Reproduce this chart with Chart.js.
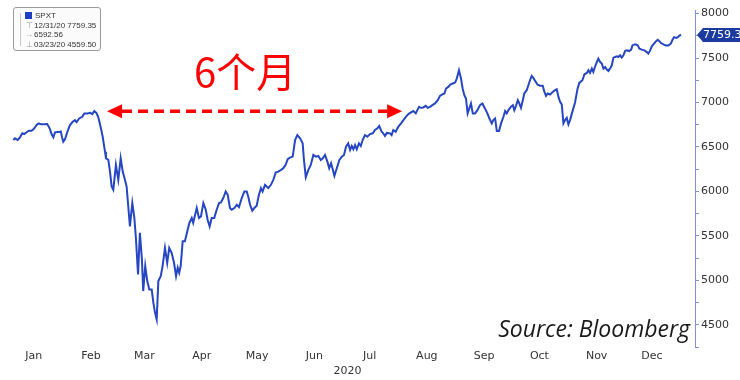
<!DOCTYPE html>
<html>
<head>
<meta charset="utf-8">
<script src="https://cdn.jsdelivr.net/npm/chart.js@4"></script>
<style>
html,body{margin:0;padding:0;background:#fff;}
#wrap{position:relative;width:740px;height:380px;overflow:hidden;}
#legendBox{position:absolute;left:13px;top:7px;width:86px;height:42px;border:1px solid #9a9a9a;border-radius:3px;background:#fbfbfb;font-family:"Liberation Sans",Arial,sans-serif;font-size:8px;color:#333;}
#legendBox span{position:absolute;white-space:nowrap;line-height:10px;}
#legendBox .tree{position:absolute;left:6px;top:5px;width:1px;height:33px;background:#c8c8c8;}
#legendBox .sq{position:absolute;left:11px;top:4px;width:7px;height:7px;background:#1e3fc0;}
</style>
</head>
<body>
<div id="wrap">
<canvas id="c" width="740" height="380"></canvas>
<div id="legendBox">
  <div class="tree"></div>
  <div class="sq"></div>
  <span style="left:21px;top:3px;">SPXT</span>
  <span style="left:12px;top:13px;color:#999;">⊤</span>
  <span style="left:20px;top:13px;">12/31/20 7759.35</span>
  <span style="left:11px;top:22px;color:#999;">→</span>
  <span style="left:20px;top:22px;">6592.56</span>
  <span style="left:12px;top:32px;color:#999;">⊥</span>
  <span style="left:20px;top:32px;">03/23/20 4559.50</span>
</div>
</div>
<script>
// ---- data (day of year 2020, 0 = Jan 1) ----
const monthNames = ['Jan','Feb','Mar','Apr','May','Jun','Jul','Aug','Sep','Oct','Nov','Dec'];
const monthStarts = [0,31,60,91,121,152,182,213,244,274,305,335];
const yearLabel = '2020';
const seriesName = 'SPXT';
const lastValue = 7759.35;
const yTickValues = [4250,4500,4750,5000,5250,5500,5750,6000,6250,6500,6750,7000,7250,7500,7750,8000];
const yLabelledTicks = [4500,5000,5500,6000,6500,7000,7500,8000];

const days = [
2.9,3.8,5.3,6.5,7.8,8.8,10.5,11.4,12.8,14.1,15.6,16.8,17.9,20.1,21.3,22.6,23.7,24.6,25.5,26.9,27.8,28.6,29.4,30.0,30.9,32.4,33.6,35.1,36.3,37.2,38.6,40.3,41.4,43.2,44.6,45.7,46.8,47.9,48.9,50.2,51.3,
52.6,53.1,54.4,55.3,56.2,57.1,58.5,59.8,61.1,62.2,63.4,64.3,65.2,66.1,67.4,68.5,69.4,70.5,71.5,72.6,73.3,74.4,75.5,76.6,77.9,78.8,79.7,80.6,81.5,82.8,83.8,85.1,86.3,87.4,88.7,90.0,91.1,92.0,92.8,93.6,94.7,95.9,97.2,98.3,99.6,100.4,
102.3,103.5,104.6,105.9,107.2,108.2,109.3,110.4,111.8,113.1,114.4,115.4,116.7,118.0,119.1,120.3,121.2,122.7,124.0,125.2,126.7,128.1,129.4,130.2,131.2,132.4,133.5,134.8,136.0,137.1,138.0,139.3,140.2,141.1,142.5,143.8,145.1,146.5,148.0,149.2,150.5,151.6,152.8,
154.3,155.6,156.8,158.3,159.7,160.4,161.4,162.8,164.1,165.5,166.9,168.2,169.5,170.6,171.8,173.1,174.1,175.1,176.0,176.9,178.2,179.6,180.9,182.1,183.2,184.4,185.4,186.3,187.2,188.1,189.0,190.2,191.2,192.2,193.5,194.7,196.2,197.7,198.9,200.2,201.2,202.5,203.4,204.3,205.3,
207.0,207.9,208.8,210.1,211.5,213.0,214.3,215.6,217.0,218.4,219.7,221.0,222.1,222.8,223.8,225.1,226.4,227.5,228.7,230.0,231.4,232.9,234.1,235.4,236.5,237.4,238.6,239.7,241.0,242.3,243.2,244.4,245.5,246.4,247.3,248.2,249.1,250.0,250.9,251.9,253.1,254.4,255.8,257.1,
258.5,259.8,260.9,262.2,263.0,264.0,264.9,266.1,267.2,268.5,269.4,270.3,271.2,272.5,273.6,274.4,275.3,276.3,277.1,278.0,279.0,279.8,281.1,282.0,282.9,283.8,284.7,285.8,286.9,288.3,289.8,290.7,291.6,292.5,293.8,295.2,296.5,297.4,298.3,299.2,300.1,301.0,301.9,302.8,303.7,304.6,306.1,307.3,308.6,309.6,
311.3,312.4,313.7,314.5,315.4,316.4,317.2,318.2,319.1,319.9,320.9,321.8,322.7,323.6,324.5,325.4,326.3,327.2,328.1,329.0,329.9,330.8,331.7,332.6,333.5,334.4,335.3,336.6,337.7,338.4,339.5,340.4,341.3,342.2,343.5,344.9,346.2,347.0,348.0,348.9,350.1,351.2,352.1,353.0,353.9,355.2,356.5,357.9,359.2,360.1,361.0,362.1,363.0,363.9,364.8
];
const spxt = [
6578,6597,6578,6608,6653,6645,6671,6682,6682,6704,6749,6765,6754,6754,6757,6709,6642,6608,6664,6667,6667,6675,6604,6559,6586,6682,6746,6783,6802,6779,6820,6839,6877,6877,6883,6869,6903,6883,6839,6727,6620,
6447,6373,6354,6223,6055,6018,6298,6130,6373,6223,6130,6055,5831,5607,5869,5701,5458,5066,5533,5234,4879,5160,4991,4898,4898,4749,4637,4560,4991,5047,5160,5365,5197,5365,5309,5197,5047,5141,5085,5160,5440,5440,5552,5645,5701,5645,
5813,5701,5719,5869,5794,5682,5607,5701,5701,5794,5869,5876,5925,5999,5962,5813,5794,5813,5850,5824,5925,5999,5999,5943,5850,5783,5813,5839,5962,6037,5999,6074,6055,6037,6074,6130,6212,6223,6242,6261,6298,6362,6380,
6391,6578,6634,6597,6541,6354,6160,6242,6298,6410,6391,6398,6354,6373,6410,6335,6261,6317,6250,6175,6261,6354,6391,6410,6503,6541,6466,6511,6474,6522,6474,6541,6511,6578,6634,6615,6645,6653,6690,6709,6735,6671,6653,6625,6658,
6653,6634,6690,6671,6727,6765,6802,6839,6869,6888,6903,6877,6925,6951,6940,6944,6962,6940,6951,6970,6989,7026,7074,7090,7101,7157,7175,7202,7213,7224,7269,7362,7269,7157,7082,7045,6877,6933,6989,6877,6877,6914,6970,6989,
6933,6877,6820,6765,6802,6820,6679,6679,6765,6839,6903,6877,6914,6951,6970,6914,6962,7026,6989,6940,7026,7101,7138,7194,7250,7299,7276,7239,7202,7187,7187,7119,7074,7101,7090,7119,7138,7149,7063,7007,6978,6765,6802,6828,6754,6802,6914,7000,7150,7220,
7250,7317,7332,7362,7332,7381,7343,7407,7455,7493,7455,7437,7381,7399,7370,7354,7381,7418,7504,7511,7519,7511,7530,7504,7530,7578,7586,7578,7594,7642,7653,7653,7642,7605,7594,7586,7567,7549,7586,7631,7661,7690,7705,7690,7668,7653,7642,7642,7661,7705,7735,7727,7735,7754,7759.35
];

// annotation: recovery span (Feb peak -> back to peak level)
const spanFromDay = 53.7;
const spanToDay = 213.6;
const spanLevel = 6900;
const spanLabel = '6个月';
const spanLabelDay = 128.5;
const spanLabelLevel = 7340;
const sourceText = 'Source: Bloomberg';

const LINE = '#2646c2';
const AXIS = '#7f92d8';

const overlay = {
  id: 'overlay',
  afterDatasetsDraw(chart) {
    const {ctx, scales: {x, y}, chartArea} = chart;
    ctx.save();
    const ay = y.getPixelForValue(spanLevel);
    const x1 = x.getPixelForValue(spanFromDay);
    const x2 = x.getPixelForValue(spanToDay);
    const head = 15, hh = 7;
    ctx.strokeStyle = '#ff0000';
    ctx.fillStyle = '#ff0000';
    ctx.lineWidth = 3.5;
    ctx.setLineDash([10, 6]);
    ctx.beginPath();
    ctx.moveTo(x1 + head, ay);
    ctx.lineTo(x2 - head, ay);
    ctx.stroke();
    ctx.setLineDash([]);
    ctx.beginPath();
    ctx.moveTo(x1, ay); ctx.lineTo(x1 + head, ay - hh); ctx.lineTo(x1 + head, ay + hh); ctx.closePath(); ctx.fill();
    ctx.beginPath();
    ctx.moveTo(x2, ay); ctx.lineTo(x2 - head, ay - hh); ctx.lineTo(x2 - head, ay + hh); ctx.closePath(); ctx.fill();
    ctx.font = '40px "Noto Sans CJK SC", sans-serif';
    ctx.textAlign = 'center';
    ctx.textBaseline = 'middle';
    ctx.fillText(spanLabel, x.getPixelForValue(spanLabelDay), y.getPixelForValue(spanLabelLevel));
    ctx.fillStyle = '#1a1a1a';
    ctx.font = 'italic 23px "Open Sans", sans-serif';
    ctx.textAlign = 'right';
    ctx.textBaseline = 'alphabetic';
    ctx.fillText(sourceText, chartArea.right - 5, chartArea.bottom - 10);
    const ty = y.getPixelForValue(lastValue);
    const tx = chartArea.right + 2;
    ctx.fillStyle = '#1c3b9e';
    ctx.beginPath();
    ctx.moveTo(tx, ty);
    ctx.lineTo(tx + 6, ty - 7);
    ctx.lineTo(tx + 60, ty - 7);
    ctx.lineTo(tx + 60, ty + 7);
    ctx.lineTo(tx + 6, ty + 7);
    ctx.closePath();
    ctx.fill();
    ctx.fillStyle = '#ffffff';
    ctx.font = '11px "DejaVu Sans", sans-serif';
    ctx.textAlign = 'left';
    ctx.textBaseline = 'middle';
    ctx.fillText(lastValue.toFixed(2), tx + 6, ty + 0.5);
    ctx.restore();
  }
};

new Chart(document.getElementById('c'), {
  type: 'line',
  data: {
    datasets: [{
      label: seriesName,
      data: days.map((d, i) => ({x: d, y: spxt[i]})),
      borderColor: LINE,
      borderWidth: 2,
      pointRadius: 0,
      tension: 0,
      fill: false
    }]
  },
  options: {
    responsive: false,
    animation: false,
    layout: {padding: {top: 10, left: 0, right: 0, bottom: 0}},
    plugins: {legend: {display: false}, tooltip: {enabled: false}},
    scales: {
      x: {
        type: 'linear',
        min: -4.3,
        max: 372.3,
        afterBuildTicks(s) { s.ticks = monthStarts.map(d => ({value: d + 14})); },
        ticks: {
          autoSkip: false, maxRotation: 0, padding: 3, color: '#333',
          font: {family: 'DejaVu Sans', size: 11},
          callback: (v, i) => monthNames[i]
        },
        grid: {display: false, drawTicks: false},
        border: {display: false},
        title: {display: true, text: yearLabel, color: '#333', font: {family: 'DejaVu Sans', size: 11}, padding: {top: 0, bottom: 2}},
        afterFit(s) { s.height = 33; }
      },
      y: {
        position: 'right',
        min: 4250,
        max: 8040,
        afterBuildTicks(s) { s.ticks = yTickValues.map(v => ({value: v})); },
        ticks: {
          autoSkip: false, padding: 2, color: '#333',
          font: {family: 'DejaVu Sans', size: 11},
          callback: (v, i) => (yLabelledTicks.includes(yTickValues[i]) ? String(yTickValues[i]) : '')
        },
        grid: {drawOnChartArea: false, drawTicks: true, tickLength: 4, color: AXIS},
        border: {display: true, color: AXIS, width: 1},
        afterFit(s) { s.width = 45; }
      }
    }
  },
  plugins: [overlay]
});
</script>
</body>
</html>
